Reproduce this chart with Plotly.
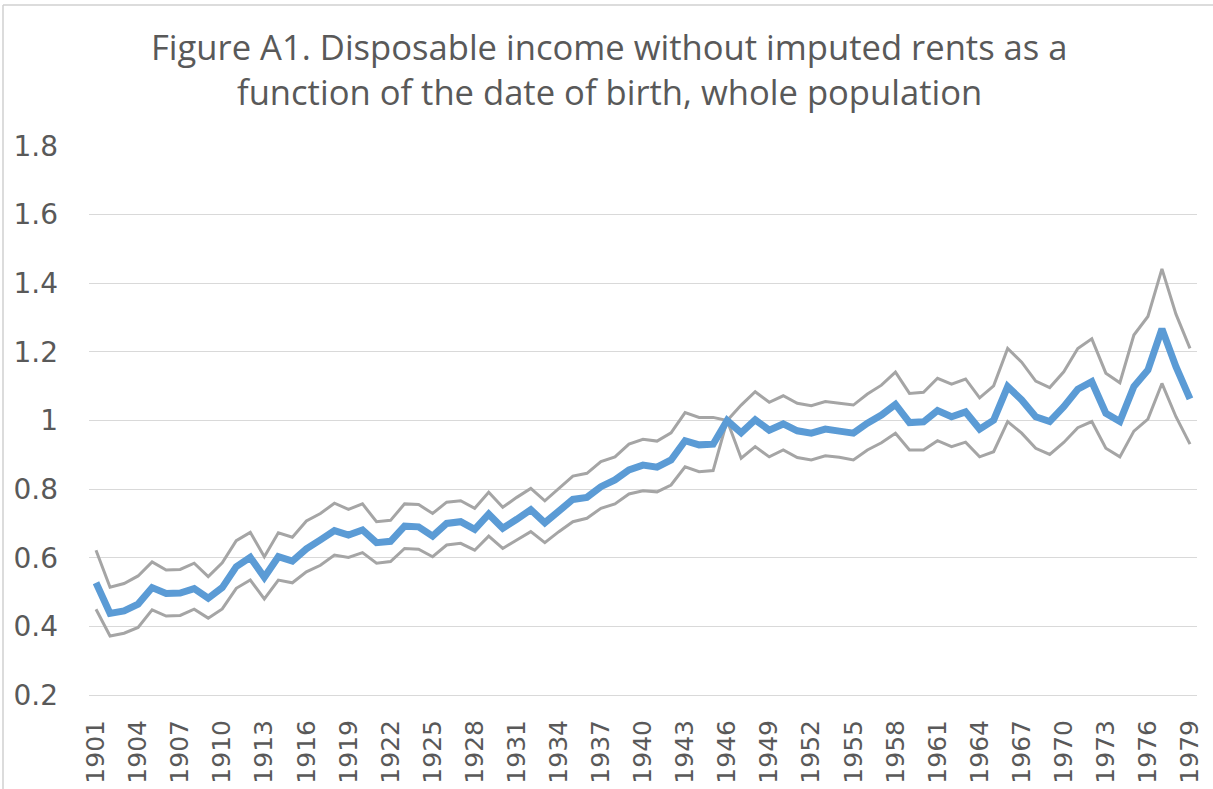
import plotly.graph_objects as go

years = list(range(1901, 1980))

central = [0.527, 0.438, 0.445, 0.465, 0.513, 0.496, 0.497, 0.510, 0.482, 0.513,
           0.574, 0.601, 0.543, 0.603, 0.590, 0.626, 0.652, 0.679, 0.666, 0.681,
           0.644, 0.648, 0.692, 0.690, 0.663, 0.700, 0.705, 0.683, 0.727, 0.686,
           0.712, 0.740, 0.702, 0.739, 0.770, 0.776, 0.807, 0.827, 0.856, 0.870,
           0.864, 0.885, 0.941, 0.929, 0.931, 1.000, 0.964, 1.002, 0.972, 0.990,
           0.970, 0.963, 0.975, 0.969, 0.963, 0.992, 1.016, 1.047, 0.994, 0.996,
           1.029, 1.011, 1.025, 0.975, 1.001, 1.099, 1.060, 1.011, 0.997, 1.040,
           1.091, 1.113, 1.021, 0.997, 1.099, 1.147, 1.267, 1.157, 1.063]

upper = [0.622, 0.514, 0.525, 0.547, 0.588, 0.564, 0.566, 0.584, 0.545, 0.585,
         0.650, 0.674, 0.603, 0.673, 0.660, 0.707, 0.729, 0.759, 0.741, 0.757,
         0.705, 0.709, 0.757, 0.755, 0.729, 0.762, 0.766, 0.744, 0.791, 0.747,
         0.776, 0.802, 0.766, 0.802, 0.838, 0.846, 0.880, 0.894, 0.931, 0.945,
         0.940, 0.964, 1.023, 1.009, 1.009, 1.000, 1.045, 1.084, 1.053, 1.072,
         1.050, 1.043, 1.055, 1.050, 1.045, 1.077, 1.103, 1.141, 1.079, 1.082,
         1.123, 1.106, 1.121, 1.066, 1.101, 1.210, 1.170, 1.115, 1.096, 1.142,
         1.210, 1.238, 1.138, 1.110, 1.249, 1.303, 1.442, 1.310, 1.210]

lower = [0.450, 0.372, 0.380, 0.397, 0.448, 0.430, 0.432, 0.450, 0.424, 0.451,
         0.511, 0.535, 0.480, 0.535, 0.527, 0.559, 0.578, 0.608, 0.601, 0.615,
         0.584, 0.589, 0.627, 0.625, 0.603, 0.637, 0.642, 0.622, 0.663, 0.627,
         0.652, 0.676, 0.644, 0.676, 0.705, 0.715, 0.744, 0.757, 0.786, 0.795,
         0.792, 0.812, 0.865, 0.851, 0.854, 1.000, 0.890, 0.924, 0.894, 0.914,
         0.892, 0.885, 0.897, 0.893, 0.885, 0.914, 0.935, 0.963, 0.914, 0.914,
         0.941, 0.924, 0.937, 0.894, 0.909, 0.997, 0.963, 0.919, 0.901, 0.936,
         0.979, 0.997, 0.919, 0.894, 0.969, 1.004, 1.108, 1.011, 0.931]

tick_years = list(range(1901, 1980, 3))
y_ticks = [0.2, 0.4, 0.6, 0.8, 1.0, 1.2, 1.4, 1.6, 1.8]
y_labels = ["0.2", "0.4", "0.6", "0.8", "1", "1.2", "1.4", "1.6", "1.8"]

title_lines = ["Figure A1. Disposable income without imputed rents as a",
               "function of the date of birth, whole population"]

fig = go.Figure()
fig.add_trace(go.Scatter(x=years, y=upper, mode="lines",
                         line=dict(color="#A5A5A5", width=3), name="upper"))
fig.add_trace(go.Scatter(x=years, y=lower, mode="lines",
                         line=dict(color="#A5A5A5", width=3), name="lower"))
fig.add_trace(go.Scatter(x=years, y=central, mode="lines",
                         line=dict(color="#5B9BD5", width=7), name="central"))

L, R, T, B = 89, 16, 146, 94
W, H = 1213, 789
pw, ph = W - L - R, H - T - B

def px_x(p):
    return (p - L) / pw

def px_y(p):
    return (H - B - p) / ph

annotations = []
for line_text, cy in zip(title_lines, [46, 92]):
    annotations.append(dict(text=line_text, xref="paper", yref="paper",
                            x=px_x(609), y=px_y(cy), xanchor="center", yanchor="middle",
                            showarrow=False,
                            font=dict(family="Open Sans", size=34.6, color="#595959")))

fig.update_layout(
    width=W, height=H,
    margin=dict(l=L, r=R, t=T, b=B, autoexpand=False),
    paper_bgcolor="white", plot_bgcolor="white",
    showlegend=False,
    font=dict(family="DejaVu Sans", color="#595959"),
    annotations=annotations,
    xaxis=dict(range=[1900.5, 1979.5], tickmode="array", tickvals=tick_years,
               ticktext=[str(y) for y in tick_years], tickangle=-90,
               tickfont=dict(size=25, color="#595959"), showgrid=False,
               zeroline=False, showline=True, linecolor="#D9D9D9", linewidth=1,
               ticks="", ticklabelstandoff=14, automargin=False),
    yaxis=dict(range=[0.2, 1.8], tickmode="array", tickvals=y_ticks, ticktext=y_labels,
               tickfont=dict(size=28, color="#595959"), showgrid=True,
               gridcolor="#D9D9D9", gridwidth=1, zeroline=False, showline=False,
               ticks="", ticklabelstandoff=30, automargin=False),
    shapes=[
        dict(type="line", xref="paper", yref="paper", x0=px_x(3), x1=1.1,
             y0=px_y(5), y1=px_y(5), line=dict(color="#D0D0D0", width=1.5)),
        dict(type="line", xref="paper", yref="paper", x0=px_x(3), x1=px_x(3),
             y0=px_y(5), y1=-0.3, line=dict(color="#D0D0D0", width=1.5)),
    ],
)

fig.write_html("out.html", config={"displayModeBar": False},
               post_script="document.body.style.margin='0';document.body.style.padding='0';")
